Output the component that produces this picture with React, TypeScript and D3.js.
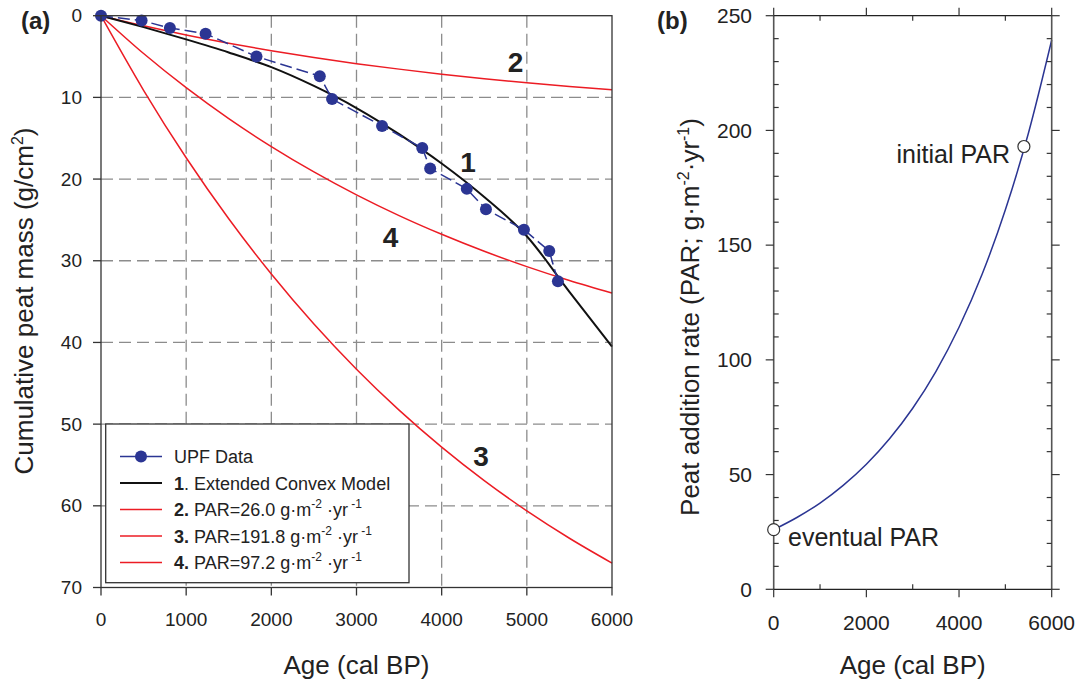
import React from "react";
import * as d3 from "d3";

// ---------- data ----------
const dataAge = [0, 477, 809, 1228, 1826, 2569, 2713, 3300, 3772, 3865, 4295, 4520, 4966, 5263, 5365];
const dataMass = [0, 0.6, 1.5, 2.2, 5.0, 7.4, 10.2, 13.5, 16.2, 18.7, 21.2, 23.7, 26.2, 28.8, 32.5];

const modelAge = [0, 500, 1000, 1500, 2000, 2500, 3000, 3500, 4000, 4500, 5000, 5500, 6000];
const model1 = [0, 1.4, 2.9, 4.5, 6.3, 8.6, 11.3, 14.5, 18.1, 22.2, 27.0, 33.8, 40.5];
const model2 = [0, 1.24, 2.36, 3.37, 4.29, 5.12, 5.87, 6.54, 7.16, 7.71, 8.22, 8.67, 9.08];
const model3 = [0, 9.13, 17.39, 24.86, 31.62, 37.74, 43.27, 48.28, 52.81, 56.91, 60.62, 63.97, 67.01];
const model4 = [0, 4.63, 8.81, 12.6, 16.02, 19.12, 21.93, 24.47, 26.76, 28.84, 30.72, 32.42, 33.96];

const parAge = [0, 500, 1000, 1500, 2000, 2500, 3000, 3500, 4000, 4500, 5000, 5500, 6000];
const parValue = [26, 31.3, 37.6, 45.3, 54.5, 65.6, 78.9, 94.9, 114.2, 137.4, 165.4, 199.0, 239.4];
const parMarkAge = [0, 5400];
const parMarkValue = [26, 193];

const xTicksA = [0, 1000, 2000, 3000, 4000, 5000, 6000];
const yTicksA = [0, 10, 20, 30, 40, 50, 60, 70];
const xTicksB = [0, 2000, 4000, 6000];
const xMinorB = [1000, 3000, 5000];
const yTicksB = [0, 50, 100, 150, 200, 250];

// ---------- styles ----------
const FONT = "'Liberation Sans', Arial, Helvetica, sans-serif";
const BLUE = "#2b3593";
const RED = "#ec1c24";
const GRID = "#8c8c8c";
const AX = "#333";

export default function App() {
  const xA = d3.scaleLinear().domain([0, 6000]).range([101, 612]);
  const yA = d3.scaleLinear().domain([0, 70]).range([15.7, 587.5]);
  const xB = d3.scaleLinear().domain([0, 6000]).range([773.7, 1051.7]);
  const yB = d3.scaleLinear().domain([0, 250]).range([589.3, 15.7]);

  const curveA = (vals: number[]) =>
    d3
      .line<number>()
      .x((_, i) => xA(modelAge[i]))
      .y((v) => yA(v))
      .curve(d3.curveMonotoneX)(vals) as string;

  const dataLine = d3
    .line<number>()
    .x((_, i) => xA(dataAge[i]))
    .y((v) => yA(v))(dataMass) as string;

  const parLine = d3
    .line<number>()
    .x((_, i) => xB(parAge[i]))
    .y((v) => yB(v))
    .curve(d3.curveMonotoneX)(parValue) as string;

  const yMinorB = d3.range(0, 251, 10).filter((v) => v % 50 !== 0);

  const legendY0 = 463;
  const legendStep = 26.5;
  const legendItems = [
    { type: "data" },
    { type: "black", bold: "1", rest: ". Extended Convex Model" },
    { type: "red", bold: "2.", rest: " PAR=26.0 g·m" },
    { type: "red", bold: "3.", rest: " PAR=191.8 g·m" },
    { type: "red", bold: "4.", rest: " PAR=97.2 g·m" },
  ];

  return (
    <svg
      width={1080}
      height={681}
      style={{ position: "absolute", left: 0, top: 0, background: "#fff" }}
      fontFamily={FONT}
    >
      <rect x={0} y={0} width={1080} height={681} fill="#fff" />

      {/* ===== Panel (a) ===== */}
      {/* grid */}
      {xTicksA.slice(1, -1).map((t) => (
        <line key={"gx" + t} x1={xA(t)} x2={xA(t)} y1={yA(0)} y2={yA(70)} stroke={GRID} strokeWidth={1.3} strokeDasharray="12 6" />
      ))}
      {yTicksA.slice(1, -1).map((t) => (
        <line key={"gy" + t} x1={xA(0)} x2={xA(6000)} y1={yA(t)} y2={yA(t)} stroke={GRID} strokeWidth={1.3} strokeDasharray="12 6" />
      ))}

      {/* model curves */}
      <path d={curveA(model2)} fill="none" stroke={RED} strokeWidth={1.5} />
      <path d={curveA(model3)} fill="none" stroke={RED} strokeWidth={1.5} />
      <path d={curveA(model4)} fill="none" stroke={RED} strokeWidth={1.5} />
      <path d={curveA(model1)} fill="none" stroke="#111" strokeWidth={2} />

      {/* data */}
      <path d={dataLine} fill="none" stroke={BLUE} strokeWidth={1.5} strokeDasharray="12 5" />
      {dataAge.map((a, i) => (
        <circle key={"p" + i} cx={xA(a)} cy={yA(dataMass[i])} r={6} fill={BLUE} />
      ))}

      {/* frame */}
      <rect x={xA(0)} y={yA(0)} width={xA(6000) - xA(0)} height={yA(70) - yA(0)} fill="none" stroke={AX} strokeWidth={1.3} />
      {yTicksA.map((t) => (
        <g key={"ya" + t}>
          <line x1={xA(0) - 8} x2={xA(0)} y1={yA(t)} y2={yA(t)} stroke={AX} strokeWidth={1.3} />
          <text x={82} y={yA(t)} dy="0.35em" textAnchor="end" fontSize={19} fill="#222">
            {t}
          </text>
        </g>
      ))}
      {xTicksA.map((t) => (
        <g key={"xa" + t}>
          <line x1={xA(t)} x2={xA(t)} y1={yA(70)} y2={yA(70) + 8} stroke={AX} strokeWidth={1.3} />
          <text x={xA(t)} y={626} textAnchor="middle" fontSize={19} fill="#222">
            {t}
          </text>
        </g>
      ))}

      {/* curve numbers */}
      <text x={468} y={172} textAnchor="middle" fontSize={28} fontWeight="bold" fill="#222">1</text>
      <text x={515.5} y={72} textAnchor="middle" fontSize={28} fontWeight="bold" fill="#222">2</text>
      <text x={481} y={466} textAnchor="middle" fontSize={28} fontWeight="bold" fill="#222">3</text>
      <text x={390.5} y={246.7} textAnchor="middle" fontSize={28} fontWeight="bold" fill="#222">4</text>

      {/* legend */}
      <rect x={105.7} y={424} width={303.3} height={158.7} fill="#fff" stroke={AX} strokeWidth={1.3} />
      {legendItems.map((it, i) => {
        const by = legendY0 + i * legendStep;
        const ly = by - 6.5;
        return (
          <g key={"lg" + i}>
            {it.type === "data" ? (
              <>
                <line x1={120} x2={162} y1={ly} y2={ly} stroke={BLUE} strokeWidth={1.5} strokeDasharray="17 9 20" />
                <circle cx={141} cy={ly} r={6} fill={BLUE} />
              </>
            ) : (
              <line x1={120} x2={162} y1={ly} y2={ly} stroke={it.type === "black" ? "#111" : RED} strokeWidth={it.type === "black" ? 2 : 1.5} />
            )}
            <text x={174} y={by} fontSize={18} fill="#222">
              {it.type === "data" ? (
                "UPF Data"
              ) : it.type === "black" ? (
                <>
                  <tspan fontWeight="bold">{it.bold}</tspan>
                  {it.rest}
                </>
              ) : (
                <>
                  <tspan fontWeight="bold">{it.bold}</tspan>
                  {it.rest}
                  <tspan dy={-8} fontSize={12}>-2</tspan>
                  <tspan dy={8}> ·yr</tspan>
                  <tspan dy={-8} fontSize={12}> -1</tspan>
                </>
              )}
            </text>
          </g>
        );
      })}

      {/* axis titles (a) */}
      <text x={356.5} y={674} textAnchor="middle" fontSize={26} fill="#222">
        Age (cal BP)
      </text>
      <text transform={`translate(33,301) rotate(-90)`} textAnchor="middle" fontSize={26} fill="#222">
        Cumulative peat mass (g/cm<tspan dy={-10} fontSize={16}>2</tspan>
        <tspan dy={10}>)</tspan>
      </text>
      <text x={21} y={29} fontSize={24} fontWeight="bold" fill="#222">(a)</text>

      {/* ===== Panel (b) ===== */}
      <path d={parLine} fill="none" stroke={BLUE} strokeWidth={1.5} />

      {/* frame lines */}
      <line x1={xB(0)} x2={xB(0)} y1={yB(250)} y2={yB(0)} stroke="#555" strokeWidth={1.6} />
      <line x1={xB(6000)} x2={xB(6000)} y1={yB(250)} y2={yB(0)} stroke="#555" strokeWidth={1.6} />
      <line x1={xB(0)} x2={xB(6000)} y1={yB(0)} y2={yB(0)} stroke="#222" strokeWidth={1.2} />
      <line x1={xB(0)} x2={xB(6000)} y1={yB(250)} y2={yB(250)} stroke="#222" strokeWidth={1.2} />

      {/* y ticks b */}
      {yTicksB.map((t) => (
        <g key={"yb" + t}>
          <line x1={xB(0) - 8} x2={xB(0)} y1={yB(t)} y2={yB(t)} stroke={AX} strokeWidth={1.2} />
          <line x1={xB(6000)} x2={xB(6000) + 8} y1={yB(t)} y2={yB(t)} stroke={AX} strokeWidth={1.2} />
          <text x={752} y={yB(t)} dy="0.35em" textAnchor="end" fontSize={21} fill="#222">
            {t}
          </text>
        </g>
      ))}
      {yMinorB.map((t) => (
        <g key={"ybm" + t}>
          <line x1={xB(0)} x2={xB(0) + 5} y1={yB(t)} y2={yB(t)} stroke={AX} strokeWidth={1.2} />
          <line x1={xB(6000) - 5} x2={xB(6000)} y1={yB(t)} y2={yB(t)} stroke={AX} strokeWidth={1.2} />
        </g>
      ))}
      {/* x ticks b */}
      {xTicksB.map((t) => (
        <g key={"xb" + t}>
          <line x1={xB(t)} x2={xB(t)} y1={yB(0)} y2={yB(0) + 8} stroke={AX} strokeWidth={1.2} />
          <line x1={xB(t)} x2={xB(t)} y1={yB(250) - 8} y2={yB(250)} stroke={AX} strokeWidth={1.2} />
          <text x={xB(t)} y={630} textAnchor="middle" fontSize={21} fill="#222">
            {t}
          </text>
        </g>
      ))}
      {xMinorB.map((t) => (
        <g key={"xbm" + t}>
          <line x1={xB(t)} x2={xB(t)} y1={yB(0) - 5} y2={yB(0)} stroke={AX} strokeWidth={1.2} />
          <line x1={xB(t)} x2={xB(t)} y1={yB(250)} y2={yB(250) + 5} stroke={AX} strokeWidth={1.2} />
        </g>
      ))}

      {/* markers */}
      {parMarkAge.map((a, i) => (
        <circle key={"m" + i} cx={xB(a)} cy={yB(parMarkValue[i])} r={6} fill="#fff" stroke="#333" strokeWidth={1.2} />
      ))}
      <text x={1010} y={163.3} textAnchor="end" fontSize={25} fill="#222">initial PAR</text>
      <text x={788} y={546} fontSize={25} fill="#222">eventual PAR</text>

      {/* axis titles (b) */}
      <text x={912.7} y={674} textAnchor="middle" fontSize={26} fill="#222">
        Age (cal BP)
      </text>
      <text transform={`translate(699,317) rotate(-90)`} textAnchor="middle" fontSize={26} fill="#222">
        Peat addition rate (PAR; g·m<tspan dy={-10} fontSize={16}>-2</tspan>
        <tspan dy={10}>·yr</tspan>
        <tspan dy={-10} fontSize={16}>-1</tspan>
        <tspan dy={10}>)</tspan>
      </text>
      <text x={657} y={29} fontSize={24} fontWeight="bold" fill="#222">(b)</text>
    </svg>
  );
}
